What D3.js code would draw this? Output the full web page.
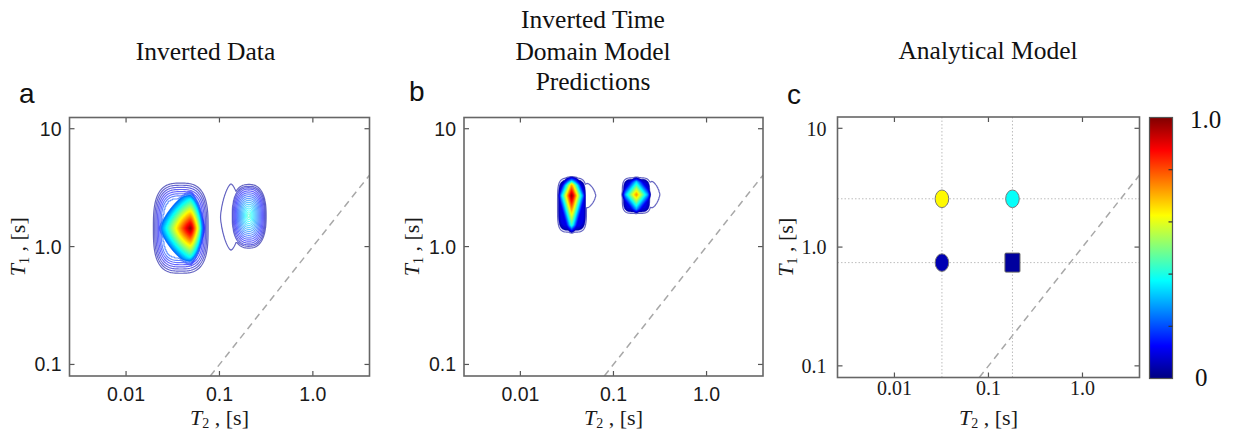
<!DOCTYPE html>
<html><head><meta charset="utf-8">
<script src="https://cdn.jsdelivr.net/npm/d3@7"></script>
<style>body{margin:0;background:#fff}</style>
</head><body>
<svg id="chart" width="1236" height="433"></svg>
<script>
// ---------- data ----------
const xTickValues = [0.01, 0.1, 1];
const xTickLabels = ["0.01", "0.1", "1.0"];
const yTickValues = [0.1, 1, 10];
const yTickLabels = ["0.1", "1.0", "10"];
const t2Domain = [0.00248, 4.04];
const t1Domain = [0.0798, 12.45];
const diagonal = [0.0798, 4.04];
const panelTitles = [["Inverted Data"], ["Inverted Time", "Domain Model", "Predictions"], ["Analytical Model"]];
const panelLetters = ["a", "b", "c"];
const contourLevels = d3.range(1, 40).map(k => +(k * 0.025).toFixed(3));

// panel a: inverted data peaks
const aT2 = [0.049, 0.206];
const aT1 = [1.43, 1.83];
const aAmp = [1.0, 0.45];
const aFloor = [0.2, 0];
const aSpreadT2 = [[0.42, 0.19], [0.2, 0.2]];     // decades left/right
const aSpreadT1 = [[0.4, 0.4], [0.3, 0.29]];      // decades down/up
const aShape = [1.35, 2.4];
const aBoxT2 = [[0.019, 0.078], [0.118, 0.36]];
const aBoxT1 = [[0.57, 3.6], [0.83, 3.9]];
const aBoxEdge = [0.36, 0.3];
const aBoxPow = [3, 3];
const aFillFrom = [0.22, 2];
const aLobePeak = [1];
const aLobeT2 = [0.133];
const aLobeT1 = [1.78];
const aLobeHalf = [[0.12, 0.3]];

// panel b: time domain model predictions
const bT2 = [0.0356, 0.176];
const bT1 = [2.71, 2.76];
const bAmp = [1.0, 0.75];
const bFloor = [0.12, 0.1];
const bSpreadT2 = [[0.16, 0.16], [0.2, 0.2]];
const bSpreadT1 = [[0.45, 0.32], [0.2, 0.2]];
const bShape = [1, 1];
const bBoxT2 = [[0.0245, 0.0525], [0.121, 0.259]];
const bBoxT1 = [[1.28, 3.95], [1.86, 3.95]];
const bBoxEdge = [0.3, 0.3];
const bBoxPow = [4.5, 4.5];
const bFillFrom = [0.05, 0.05];
const bLobePeak = [0, 1];
const bLobeT2 = [0.0525, 0.259];
const bLobeT1 = [2.71, 2.76];
const bLobeHalf = [[0.095, 0.11], [0.09, 0.12]];

// panel c: analytical model
const cT2 = [0.032, 0.18, 0.032, 0.18];
const cT1 = [2.55, 2.55, 0.74, 0.74];
const cValue = [0.63, 0.38, 0.05, 0.03];
const cShape = ["circle", "circle", "circle", "square"];
const cGridT2 = [0.032, 0.18];
const cGridT1 = [2.55, 0.74];

// colorbar
const colorbarTicks = [0.2, 0.4, 0.6, 0.8];
const colorbarLabels = ["1.0", "0"];

// ---------- helpers ----------
const jetStops = [0, 0.125, 0.375, 0.625, 0.875, 1];
const jet = d3.scaleLinear().domain(jetStops)
  .range(["#000080", "#0000ff", "#00ffff", "#ffff00", "#ff0000", "#800000"])
  .interpolate(d3.interpolateRgb).clamp(true);

const svg = d3.select("#chart");
const layout = [
  {x0: 69.5, x1: 369.5, y0: 117.5, y1: 376},
  {x0: 464, x1: 763, y0: 117.5, y1: 376},
  {x0: 837.5, x1: 1139.5, y0: 117, y1: 377.5}
];
const sans = "'Liberation Sans', Arial, sans-serif";
const serif = "'Liberation Serif', 'Times New Roman', serif";
const lg = Math.log10;
const clamp01 = v => Math.max(0, Math.min(1, v));

function makeScales(L) {
  return {
    x: d3.scaleLog().domain(t2Domain).range([L.x0, L.x1]),
    y: d3.scaleLog().domain(t1Domain).range([L.y1, L.y0])
  };
}

function drawFrame(g, L, s, idx, serifTicks) {
  const defs = g.append("defs");
  defs.append("clipPath").attr("id", "clip" + idx).append("rect")
    .attr("x", L.x0).attr("y", L.y0).attr("width", L.x1 - L.x0).attr("height", L.y1 - L.y0);
  const tickFont = serifTicks ? serif : sans;
  const tickSize = serifTicks ? 20 : 19.5;
  const xBase = serifTicks ? L.y1 + 17.5 : L.y1 + 25;
  g.selectAll(".xt").data(xTickValues).join("text")
    .attr("x", d => s.x(d)).attr("y", xBase)
    .attr("text-anchor", "middle").attr("font-family", tickFont).attr("font-size", tickSize)
    .attr("fill", "#1a1a1a").text((d, i) => xTickLabels[i]);
  g.selectAll(".yt").data(yTickValues).join("text")
    .attr("x", L.x0 - (serifTicks ? 11 : 8)).attr("y", d => s.y(d)).attr("dy", "0.36em")
    .attr("text-anchor", "end").attr("font-family", tickFont).attr("font-size", tickSize)
    .attr("fill", "#1a1a1a").text((d, i) => yTickLabels[i]);
}

function drawBox(g, L, s) {
  const tl = 5;
  const tk = g.append("g").attr("stroke", "#555").attr("stroke-width", 1.2);
  xTickValues.forEach(v => {
    tk.append("line").attr("x1", s.x(v)).attr("x2", s.x(v)).attr("y1", L.y1).attr("y2", L.y1 - tl);
    tk.append("line").attr("x1", s.x(v)).attr("x2", s.x(v)).attr("y1", L.y0).attr("y2", L.y0 + tl);
  });
  yTickValues.forEach(v => {
    tk.append("line").attr("y1", s.y(v)).attr("y2", s.y(v)).attr("x1", L.x0).attr("x2", L.x0 + tl);
    tk.append("line").attr("y1", s.y(v)).attr("y2", s.y(v)).attr("x1", L.x1).attr("x2", L.x1 - tl);
  });
  g.append("rect").attr("x", L.x0).attr("y", L.y0).attr("width", L.x1 - L.x0).attr("height", L.y1 - L.y0)
    .attr("fill", "none").attr("stroke", "#666").attr("stroke-width", 1.6);
}

function drawDiagonal(g, s, idx) {
  g.append("line").attr("clip-path", `url(#clip${idx})`)
    .attr("x1", s.x(diagonal[0])).attr("y1", s.y(diagonal[0]))
    .attr("x2", s.x(diagonal[1])).attr("y2", s.y(diagonal[1]))
    .attr("stroke", "#a8a8a8").attr("stroke-width", 1.5).attr("stroke-dasharray", "7,5");
}

function axisLabels(g, L) {
  const cx = (L.x0 + L.x1) / 2;
  const xl = g.append("text").attr("x", cx).attr("y", 425).attr("text-anchor", "middle")
    .attr("font-family", serif).attr("font-size", 22).attr("fill", "#1a1a1a");
  xl.append("tspan").attr("font-style", "italic").text("T");
  xl.append("tspan").attr("font-size", 14).attr("dy", 3).text("2");
  xl.append("tspan").attr("dy", -3).text(" , [s]");
  const yl = g.append("text").attr("transform", `translate(${L.x0 - 45},${(L.y0 + L.y1) / 2}) rotate(-90)`)
    .attr("text-anchor", "middle").attr("font-family", serif).attr("font-size", 22).attr("fill", "#1a1a1a");
  yl.append("tspan").attr("font-style", "italic").text("T");
  yl.append("tspan").attr("font-size", 14).attr("dy", 4).text("1");
  yl.append("tspan").attr("dy", -4).text(" , [s]");
}

function drawPeaks(g, L, s, idx, P) {
  const nx = Math.ceil(L.x1 - L.x0), ny = Math.ceil(L.y1 - L.y0);
  const lxs = d3.range(nx).map(i => lg(s.x.invert(L.x0 + i + 0.5)));
  const lys = d3.range(ny).map(j => lg(s.y.invert(L.y0 + j + 0.5)));
  const path = d3.geoPath(d3.geoIdentity().translate([L.x0, L.y0]));
  const cg = g.append("g").attr("clip-path", `url(#clip${idx})`);
  P.t2.forEach((t2, k) => {
    const cx = lg(t2), cy = lg(P.t1[k]);
    const [sL, sR] = P.spreadT2[k], [sD, sU] = P.spreadT1[k];
    const p = P.shape[k];
    const bx0 = lg(P.boxT2[k][0]), bx1 = lg(P.boxT2[k][1]);
    const by0 = lg(P.boxT1[k][0]), by1 = lg(P.boxT1[k][1]);
    const bcx = (bx0 + bx1) / 2, bhx = (bx1 - bx0) / 2, bcy = (by0 + by1) / 2, bhy = (by1 - by0) / 2;
    const edge = P.boxEdge[k], bp = P.boxPow[k];
    const lobes = P.lobePeak.map((pk, m) => pk === k ? m : -1).filter(m => m >= 0);
    const vals = new Float64Array(nx * ny);
    for (let j = 0; j < ny; j++) {
      const ly = lys[j];
      for (let i = 0; i < nx; i++) {
        const lx = lxs[i];
        const dx = lx - cx, dy = ly - cy;
        const u = Math.abs(dx) / (dx < 0 ? sL : sR), v = Math.abs(dy) / (dy < 0 ? sD : sU);
        const d = Math.pow(Math.pow(u, p) + Math.pow(v, p), 1 / p);
        const cone = P.amp[k] * Math.max(0, 1 - d);
        const ru = Math.abs(lx - bcx) / bhx, rv = Math.abs(ly - bcy) / bhy;
        const r = Math.pow(Math.pow(ru, bp) + Math.pow(rv, bp), 1 / bp);
        const w = clamp01((1 - r) / edge);
        let val = Math.max(cone, P.floor[k]) * w;
        lobes.forEach(m => {
          const lu = Math.abs(lx - lg(P.lobeT2[m])) / P.lobeHalf[m][0];
          const lv = Math.abs(ly - lg(P.lobeT1[m])) / P.lobeHalf[m][1];
          const lr = Math.pow(Math.pow(lu, 1.5) + Math.pow(lv, 1.5), 1 / 1.5);
          val = Math.max(val, 0.04 * clamp01((1 - lr) / 0.1));
        });
        vals[j * nx + i] = val;
      }
    }
    const cs = d3.contours().size([nx, ny]).thresholds(contourLevels)(vals)
      .filter(c => c.coordinates.length);
    const fillFrom = P.fillFrom[k];
    cg.selectAll(null).data(cs).join("path").attr("d", path)
      .attr("fill", c => c.value >= fillFrom ? jet(c.value) : "none")
      .attr("stroke", c => jet(c.value))
      .attr("stroke-width", c => c.value >= fillFrom ? 0.6 : 1.2)
      .attr("stroke-opacity", c => c.value >= fillFrom ? 1 : 0.6)
      .attr("stroke-linejoin", "round");
  });
}

// ---------- titles and letters ----------
const titleCenters = [205.5, 593, 988];
const titleBaselines = [[60], [28, 60, 90], [59]];
panelTitles.forEach((lines, p) => {
  lines.forEach((t, i) => {
    svg.append("text").attr("x", titleCenters[p]).attr("y", titleBaselines[p][i])
      .attr("text-anchor", "middle").attr("font-family", serif).attr("font-size", 25.5)
      .attr("fill", "#111").text(t);
  });
});
const letterPos = [[19, 103], [409, 101], [787, 104]];
panelLetters.forEach((t, i) => {
  svg.append("text").attr("x", letterPos[i][0]).attr("y", letterPos[i][1])
    .attr("font-family", sans).attr("font-size", 28).attr("fill", "#111").text(t);
});

// ---------- panels ----------
const peakSets = [
  {t2: aT2, t1: aT1, amp: aAmp, floor: aFloor, spreadT2: aSpreadT2, spreadT1: aSpreadT1, shape: aShape,
   boxT2: aBoxT2, boxT1: aBoxT1, boxEdge: aBoxEdge, boxPow: aBoxPow, fillFrom: aFillFrom, lobePeak: aLobePeak,
   lobeT2: aLobeT2, lobeT1: aLobeT1, lobeHalf: aLobeHalf},
  {t2: bT2, t1: bT1, amp: bAmp, floor: bFloor, spreadT2: bSpreadT2, spreadT1: bSpreadT1, shape: bShape,
   boxT2: bBoxT2, boxT1: bBoxT1, boxEdge: bBoxEdge, boxPow: bBoxPow, fillFrom: bFillFrom, lobePeak: bLobePeak,
   lobeT2: bLobeT2, lobeT1: bLobeT1, lobeHalf: bLobeHalf}
];

layout.forEach((L, idx) => {
  const g = svg.append("g");
  const s = makeScales(L);
  drawFrame(g, L, s, idx, idx === 2);
  if (idx < 2) {
    drawPeaks(g, L, s, idx, peakSets[idx]);
  } else {
    const gg = g.append("g").attr("clip-path", `url(#clip${idx})`).attr("stroke", "#bdbdbd")
      .attr("stroke-width", 1).attr("stroke-dasharray", "1.5,2");
    cGridT2.forEach(v => gg.append("line").attr("x1", s.x(v)).attr("x2", s.x(v)).attr("y1", L.y0).attr("y2", L.y1));
    cGridT1.forEach(v => gg.append("line").attr("y1", s.y(v)).attr("y2", s.y(v)).attr("x1", L.x0).attr("x2", L.x1));
  }
  drawDiagonal(g, s, idx);
  if (idx === 2) {
    cT2.forEach((t2, i) => {
      const x = s.x(t2), y = s.y(cT1[i]);
      if (cShape[i] === "square") {
        g.append("rect").attr("x", x - 7.5).attr("y", y - 9.5).attr("width", 15).attr("height", 19)
          .attr("rx", 1).attr("fill", jet(cValue[i])).attr("stroke", "#666").attr("stroke-width", 1);
      } else {
        g.append("ellipse").attr("cx", x).attr("cy", y).attr("rx", 6.8).attr("ry", 8.8)
          .attr("fill", jet(cValue[i])).attr("stroke", "#777").attr("stroke-width", 1);
      }
    });
  }
  drawBox(g, L, s);
  axisLabels(g, L);
});

// ---------- colorbar ----------
const cb = {x0: 1149.5, x1: 1172.5, y0: 117.5, y1: 378.5};
const cbScale = d3.scaleLinear().domain([0, 1]).range([cb.y1, cb.y0]);
const grad = svg.append("defs").append("linearGradient").attr("id", "jetgrad")
  .attr("x1", 0).attr("y1", 1).attr("x2", 0).attr("y2", 0);
jetStops.forEach(v => grad.append("stop").attr("offset", v).attr("stop-color", jet(v)));
svg.append("rect").attr("x", cb.x0).attr("y", cb.y0).attr("width", cb.x1 - cb.x0).attr("height", cb.y1 - cb.y0)
  .attr("fill", "url(#jetgrad)").attr("stroke", "#555").attr("stroke-width", 1.2);
colorbarTicks.forEach(v => {
  svg.append("line").attr("x1", cb.x1 - 4).attr("x2", cb.x1).attr("y1", cbScale(v)).attr("y2", cbScale(v))
    .attr("stroke", "#333").attr("stroke-width", 1.2);
});
svg.append("text").attr("x", 1190).attr("y", cbScale(1) + 10).attr("font-family", serif).attr("font-size", 25)
  .attr("fill", "#111").text(colorbarLabels[0]);
svg.append("text").attr("x", 1195).attr("y", cbScale(0) + 7).attr("font-family", serif).attr("font-size", 25)
  .attr("fill", "#111").text(colorbarLabels[1]);
</script>
</body></html>
